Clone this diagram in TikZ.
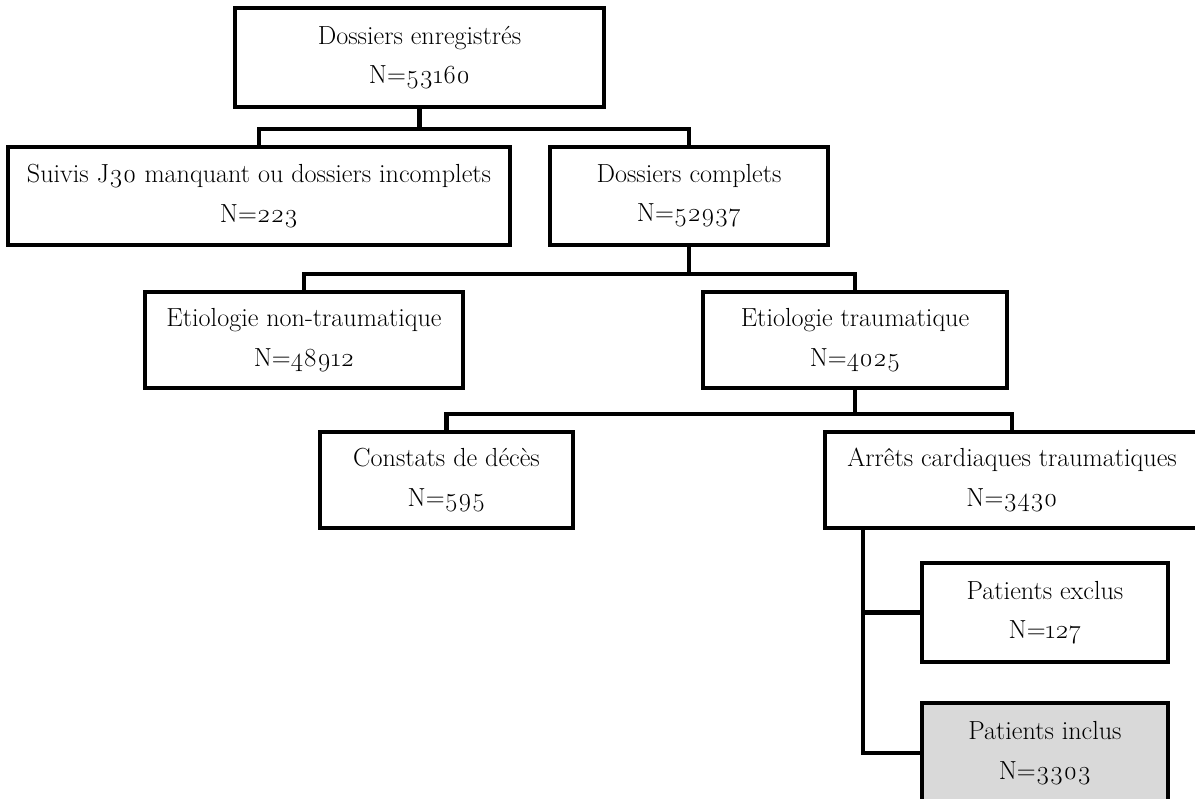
\documentclass[tikz,border=0pt]{standalone}
\usepackage{fontspec}
\setmainfont{Latin Modern Roman}[Numbers=OldStyle]
\usetikzlibrary{positioning}

\tikzset{
  box/.style={draw, line width=3.3pt, align=center, inner sep=0pt,
    font=\fontsize{18.6}{28}\selectfont},
  link/.style={line width=3pt},
}

\begin{document}
\begin{tikzpicture}[x=0.025cm, y=-0.025cm]
  \useasboundingbox (0,0) rectangle (1195,798);

  \node[box, minimum width=369*0.025cm, minimum height=99*0.025cm] (reg) at (419.5,57.5) {Dossiers enregistrés\\N=53160};
  \node[box, minimum width=502*0.025cm, minimum height=98*0.025cm] (manq) at (259,196) {Suivis J30 manquant ou dossiers incomplets\\N=223};
  \node[box, minimum width=278*0.025cm, minimum height=98*0.025cm] (compl) at (689,196) {Dossiers complets\\N=52937};
  \node[box, minimum width=318*0.025cm, minimum height=96*0.025cm] (nontrau) at (304,340) {Etiologie non-traumatique\\N=48912};
  \node[box, minimum width=304*0.025cm, minimum height=96*0.025cm] (trau) at (855,340) {Etiologie traumatique\\N=4025};
  \node[box, minimum width=253*0.025cm, minimum height=96*0.025cm] (deces) at (446.5,480) {Constats de décès\\N=595};
  \node[box, minimum width=374*0.025cm, minimum height=96*0.025cm] (acr) at (1012,480) {Arrêts cardiaques traumatiques\\N=3430};
  \node[box, minimum width=246*0.025cm, minimum height=99*0.025cm] (excl) at (1045,612.5) {Patients exclus\\N=127};
  \node[box, fill=black!15, minimum width=246*0.025cm, minimum height=100*0.025cm] (incl) at (1045,753) {Patients inclus\\N=3303};
  \coordinate (acrfoot) at (863,528);

  \draw[link] (reg.south) -- ++(0,20) -| (manq.north);
  \draw[link] (reg.south) -- ++(0,20) -| (compl.north);
  \draw[link] (compl.south) -- ++(0,27) -| (nontrau.north);
  \draw[link] (compl.south) -- ++(0,27) -| (trau.north);
  \draw[link] (trau.south) -- ++(0,24) -| (deces.north);
  \draw[link] (trau.south) -- ++(0,24) -| (acr.north);
  \draw[link] (acrfoot) |- (excl.west);
  \draw[link] (acrfoot) |- (incl.west);
\end{tikzpicture}
\end{document}
